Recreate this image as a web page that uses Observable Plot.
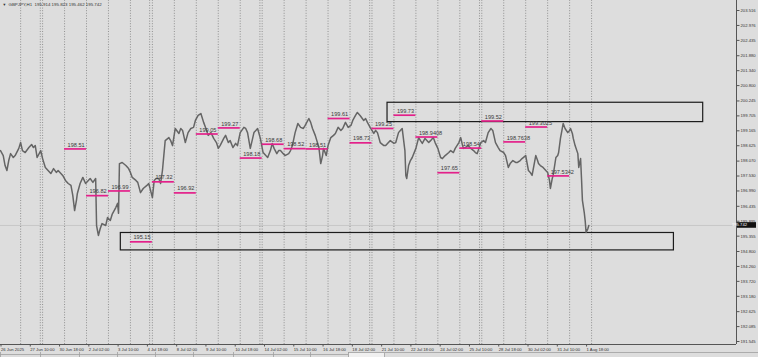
<!DOCTYPE html>
<html><head><meta charset="utf-8">
<script src="https://cdn.jsdelivr.net/npm/d3@7"></script>
<script src="https://cdn.jsdelivr.net/npm/@observablehq/plot@0.6"></script>
<style>
html,body{margin:0;padding:0;background:#dddddd;}
#chart{position:relative;width:758px;height:357px;overflow:hidden;}
</style></head><body><div id="chart"></div>
<script>
const symbolTitle = "GBPJPY,H1  195.914 195.823 195.462 195.742";
const lastPrice = 195.742;

// hourly bar index (0 = 26 Jun 02:00) and close price
const priceSeries = [[0,198.45],[3,198.27],[5,197.91],[7,197.73],[9,198.09],[11,198.34],[14,198.20],[16,198.27],[20,198.53],[22,198.74],[24,198.45],[27,198.38],[31,198.56],[34,198.67],[36,198.56],[38,198.63],[40,198.20],[44,198.45],[46,198.16],[49,197.84],[52,197.73],[55,197.62],[58,197.80],[61,197.66],[63,197.73],[68,197.55],[71,197.37],[74,197.26],[77,197.19],[79,196.83],[81,196.28],[83,196.65],[84,196.90],[87,197.26],[90,197.48],[93,197.26],[96,197.37],[98,197.44],[101,197.30],[104,197.44],[105,195.74],[106,195.56],[107,195.38],[109,195.63],[111,195.81],[115,195.74],[117,196.03],[120,195.92],[122,196.14],[126,196.39],[128,196.54],[129,196.18],[130,197.98],[133,198.02],[137,197.91],[140,197.80],[142,197.66],[144,197.48],[148,197.37],[150,197.30],[153,196.93],[156,197.08],[160,197.19],[162,197.26],[164,197.01],[166,196.75],[168,197.37],[170,197.44],[173,197.44],[175,197.26],[177,197.73],[178,198.09],[180,198.81],[184,198.92],[186,198.81],[188,198.63],[191,199.25],[195,199.07],[197,199.25],[199,199.18],[202,198.74],[205,199.10],[208,199.25],[211,199.29],[213,199.54],[216,199.72],[219,199.79],[222,199.47],[224,199.29],[227,199.00],[230,199.10],[233,198.89],[236,198.74],[238,198.53],[240,198.63],[244,198.89],[246,199.00],[249,198.74],[251,198.81],[254,198.56],[257,198.71],[259,198.63],[262,199.10],[266,199.29],[268,199.25],[270,199.10],[273,198.53],[275,198.81],[277,199.10],[281,199.25],[284,198.89],[287,198.38],[290,198.27],[292,198.20],[295,198.45],[297,198.71],[299,198.53],[302,198.34],[304,198.45],[306,198.45],[309,198.34],[311,198.27],[315,198.34],[317,198.45],[319,198.63],[322,199.10],[325,199.43],[328,199.29],[331,199.25],[333,199.36],[337,199.61],[339,199.47],[341,199.25],[344,199.00],[348,198.56],[350,197.98],[352,198.27],[353,198.53],[356,198.27],[358,198.63],[361,198.92],[364,199.00],[366,199.07],[369,199.29],[372,199.18],[374,199.25],[377,199.47],[380,199.29],[383,199.36],[385,199.54],[388,199.72],[390,199.83],[393,199.72],[397,199.54],[399,199.61],[401,199.47],[404,199.29],[408,199.07],[410,199.18],[412,199.10],[415,198.74],[419,198.63],[421,198.63],[424,198.74],[426,198.81],[430,198.71],[432,198.74],[435,199.10],[437,199.18],[439,199.25],[442,198.45],[443,197.55],[444,197.44],[446,197.91],[448,198.09],[450,198.20],[454,198.53],[457,198.92],[459,198.81],[461,198.71],[464,198.89],[468,198.74],[470,198.81],[473,198.92],[475,198.74],[478,198.53],[481,198.20],[483,198.16],[486,198.27],[490,198.38],[492,198.45],[495,198.38],[497,198.53],[501,198.74],[503,198.92],[505,198.63],[506,198.53],[508,198.56],[511,198.63],[514,198.53],[517,198.45],[519,198.38],[521,198.34],[525,198.74],[528,198.81],[530,198.74],[533,199.10],[536,199.25],[538,199.18],[541,198.74],[544,198.56],[546,198.45],[550,198.38],[552,198.27],[555,197.84],[557,197.98],[560,198.09],[563,198.02],[565,198.02],[568,198.09],[570,198.16],[574,198.27],[577,197.73],[579,197.66],[581,197.55],[585,198.27],[587,198.09],[588,197.98],[590,197.91],[593,197.84],[596,197.73],[598,197.66],[600,197.37],[601,197.08],[603,197.44],[604,197.55],[607,198.20],[609,198.27],[610,198.38],[612,198.89],[614,199.25],[615,199.43],[617,199.25],[620,199.10],[622,199.18],[623,199.25],[625,199.07],[626,198.89],[628,198.63],[631,198.34],[632,197.84],[634,198.16],[635,197.44],[636,196.65],[638,196.21],[639,195.92],[640,195.49],[642,195.63],[643,195.74]];

// right price axis
const yTicks = [203.516,202.976,202.435,201.880,201.340,200.800,200.245,199.705,199.165,198.625,198.070,197.530,196.990,196.435,195.895,195.355,194.800,194.260,193.720,193.180,192.625,192.085,191.545];

// time axis
const xTickBars = [0,32,64,96,128,160,192,224,256,288,320,352,384,416,448,480,512,544,576,608,640];
const xTickLabels = ["26 Jun 2025","27 Jun 10:00","30 Jun 18:00","2 Jul 02:00","3 Jul 10:00","4 Jul 18:00","8 Jul 02:00","9 Jul 10:00","10 Jul 18:00","14 Jul 02:00","15 Jul 10:00","16 Jul 18:00","18 Jul 02:00","21 Jul 10:00","22 Jul 18:00","24 Jul 02:00","25 Jul 10:00","28 Jul 18:00","30 Jul 02:00","31 Jul 10:00","1 Aug 18:00"];

// day separators (bar index of each day start) and week-open marks
const daySeparators = [22,46,70,94,118,142,166,190,214,238,262,286,310,334,358,382,406,430,454,478,502,526,550,574,598,622,646];
const weekSeparators = [43.5,163,283.5,403.5,523.5];

// daily levels
const levelStart = [70,94,118,142,166,190,214,238,262,286,310,334,358,382,406,430,454,478,502,526,550,574,598];
const levelValues = [198.51,196.82,196.99,195.15,197.32,196.92,199.05,199.27,198.18,198.68,198.52,198.51,199.61,198.73,199.25,199.73,198.9408,197.65,198.54,199.52,198.7638,199.3025,197.5342];
const levelLabels = ["198.51","196.82","196.99","195.15","197.32","196.92","199.05","199.27","198.18","198.68","198.52","198.51","199.61","198.73","199.25","199.73","198.9408","197.65","198.54","199.52","198.7638","199.3025","197.5342"];
const levelDay = 24;

// zones
const zoneStart = [423,131.5];
const zoneEnd = [768,736];
const zoneTop = [200.18,195.47];
const zoneBottom = [199.48,194.84];

const price = priceSeries.map(([bar, close]) => ({bar, close}));
const levels = levelValues.map((v, i) => ({start: levelStart[i], end: levelStart[i] + levelDay, value: v, label: levelLabels[i]}));
const zones = zoneStart.map((s, i) => ({x1: s, x2: zoneEnd[i], y1: zoneBottom[i], y2: zoneTop[i]}));
const separators = daySeparators.concat(weekSeparators);

const xMax = 804.4, yMin = 191.437, yMax = 203.878;
const font = "'Liberation Sans', Arial, sans-serif";

const plot = Plot.plot({
  width: 758, height: 357,
  marginTop: 0, marginLeft: 0, marginRight: 22, marginBottom: 13,
  style: {background: "#dddddd", fontFamily: font, fontSize: "4.2px", color: "#333", overflow: "visible"},
  x: {domain: [0, xMax], axis: null},
  y: {domain: [yMin, yMax], axis: null},
  marks: [
    Plot.ruleX(separators, {y1: yMin, y2: yMax, stroke: "#7d7d7d", strokeWidth: 0.8, strokeDasharray: "1,1.6"}),
    Plot.ruleY([lastPrice], {x1: 0, x2: xMax, stroke: "#c2c2c2", strokeWidth: 0.8}),
    Plot.rect(zones, {x1: "x1", x2: "x2", y1: "y1", y2: "y2", fill: "none", stroke: "#1c1c1c", strokeWidth: 1.2}),
    Plot.line(price, {x: "bar", y: "close", stroke: "#656565", strokeWidth: 1.5, curve: "linear"}),
    Plot.ruleY(levels, {x1: "start", x2: "end", y: "value", stroke: "#e3208a", strokeWidth: 1.7}),
    Plot.text(levels, {x: "start", y: "value", text: "label", dx: 3, dy: -4.2, textAnchor: "start", fill: "#3a3a3a", fontSize: 5.6, fontFamily: font}),
    Plot.ruleX([xMax], {y1: yMin, y2: yMax, stroke: "#555", strokeWidth: 1}),
    Plot.ruleY([yMin], {x1: 0, x2: xMax, stroke: "#555", strokeWidth: 1}),
    Plot.axisY({anchor: "right", ticks: yTicks, tickFormat: d => d.toFixed(3), tickSize: 2.5, tickPadding: 1.5, fontSize: 4.2, fill: "#333", stroke: "#555"}),
    Plot.axisX({anchor: "bottom", ticks: xTickBars, tickFormat: d => xTickLabels[xTickBars.indexOf(d)], tickSize: 2.5, tickPadding: 0.8, textAnchor: "start", dx: 0.5, fontSize: 4.2, fill: "#333", stroke: "#555"}),
    Plot.text([symbolTitle], {frameAnchor: "top-left", dx: 8, dy: 2.5, textAnchor: "start", lineAnchor: "top", fontSize: 4.4, fill: "#333", fontFamily: font}),
    Plot.text(["▼"], {frameAnchor: "top-left", dx: 2, dy: 3, textAnchor: "start", lineAnchor: "top", fontSize: 3.8, fill: "#333"})
  ]
});

document.getElementById("chart").appendChild(plot);

// current price marker on the right axis
const svg = d3.select(plot);
const yPos = plot.scale("y").apply(lastPrice);
const xEdge = plot.scale("x").apply(xMax);
svg.append("rect").attr("x", xEdge + 1).attr("y", yPos - 2.8).attr("width", 19).attr("height", 5.6).attr("fill", "#111");
svg.append("text").attr("x", xEdge + 3.5).attr("y", yPos + 1.5).attr("fill", "#fff").attr("font-size", 4.2).attr("font-family", font).text(lastPrice.toFixed(3));

// chart tab strip at the bottom
const tabs = [0,40,79,117,155,193,233,273,310,348];
svg.append("line").attr("x1", 0).attr("x2", 348).attr("y1", 354.5).attr("y2", 354.5).attr("stroke", "#a0a0a0").attr("stroke-width", 0.8);
svg.append("line").attr("x1", 385).attr("x2", 758).attr("y1", 352.5).attr("y2", 352.5).attr("stroke", "#a0a0a0").attr("stroke-width", 0.8);
tabs.forEach(t => svg.append("line").attr("x1", t + 0.5).attr("x2", t + 0.5).attr("y1", 352).attr("y2", 357).attr("stroke", "#a0a0a0").attr("stroke-width", 0.8));
svg.append("rect").attr("x", 348.5).attr("y", 352.5).attr("width", 36).attr("height", 6).attr("fill", "#f0f0f0").attr("stroke", "#a0a0a0").attr("stroke-width", 0.8);
</script></body></html>
